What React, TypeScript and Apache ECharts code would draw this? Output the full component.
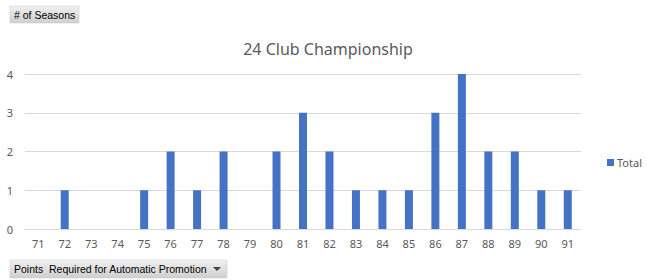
import React, { useEffect, useRef } from "react";
import * as echarts from "echarts";

const categories = ["71","72","73","74","75","76","77","78","79","80","81","82","83","84","85","86","87","88","89","90","91"];
const totals = [0,1,0,0,1,2,1,2,0,2,3,2,1,1,1,3,4,2,2,1,1];
const yTicks = [0, 1, 2, 3, 4];

const FONT = "Noto Sans";
const BTN_FONT = "Liberation Sans";

export default function App() {
  const ref = useRef<HTMLDivElement>(null);
  useEffect(() => {
    if (!ref.current) return;
    const chart = echarts.init(ref.current, null, { renderer: "svg" });
    const btnFill = new echarts.graphic.LinearGradient(0, 0, 0, 1, [
      { offset: 0, color: "#f0f0f0" },
      { offset: 1, color: "#cfcfcf" },
    ]);
    chart.setOption({
      animation: false,
      backgroundColor: "#ffffff",
      title: {
        text: "24 Club Championship",
        left: 323,
        textAlign: "center",
        top: 36,
        textStyle: { fontFamily: FONT, fontSize: 16, fontWeight: "normal", color: "#595959" },
      },
      legend: {
        data: ["Total"],
        left: 602,
        top: 152,
        itemWidth: 7,
        itemHeight: 7,
        itemGap: 4,
        icon: "rect",
        textStyle: { fontFamily: FONT, fontSize: 11, color: "#595959", padding: [0, 0, 0, -2] },
      },
      grid: { left: 25, right: 67, top: 74, bottom: 51, containLabel: false },
      xAxis: {
        type: "category",
        data: categories,
        axisLine: { lineStyle: { color: "#d9d9d9" } },
        axisTick: { show: false },
        axisLabel: { fontFamily: FONT, fontSize: 11, color: "#595959", margin: 9 },
      },
      yAxis: {
        type: "value",
        min: yTicks[0],
        max: yTicks[yTicks.length - 1],
        interval: 1,
        axisLine: { show: false },
        axisTick: { show: false },
        splitLine: { lineStyle: { color: "#d9d9d9" } },
        axisLabel: { fontFamily: FONT, fontSize: 11, color: "#595959", margin: 12 },
      },
      series: [
        {
          name: "Total",
          type: "bar",
          data: totals,
          barWidth: 8,
          itemStyle: { color: "#4472c4" },
        },
      ],
      graphic: [
        {
          type: "rect",
          shape: { x: 10, y: 6, width: 69, height: 17 },
          style: { fill: btnFill, stroke: "#c8c8c8", lineWidth: 0.5 },
        },
        {
          type: "text",
          x: 14,
          y: 14.5,
          style: { text: "# of Seasons", fontFamily: BTN_FONT, fontSize: 10.5, fill: "#000000", textVerticalAlign: "middle" },
        },
        {
          type: "rect",
          shape: { x: 10, y: 260, width: 217, height: 18 },
          style: { fill: btnFill, stroke: "#c8c8c8", lineWidth: 0.5 },
        },
        {
          type: "text",
          x: 14,
          y: 269,
          style: { text: "Points  Required for Automatic Promotion", fontFamily: BTN_FONT, fontSize: 10.5, fill: "#000000", textVerticalAlign: "middle" },
        },
        {
          type: "polygon",
          shape: { points: [[213, 267], [221, 267], [217, 271]] },
          style: { fill: "#404040" },
        },
      ],
    });
    return () => chart.dispose();
  }, []);
  return <div ref={ref} style={{ width: 648, height: 280, position: "absolute", left: 0, top: 0 }} />;
}
